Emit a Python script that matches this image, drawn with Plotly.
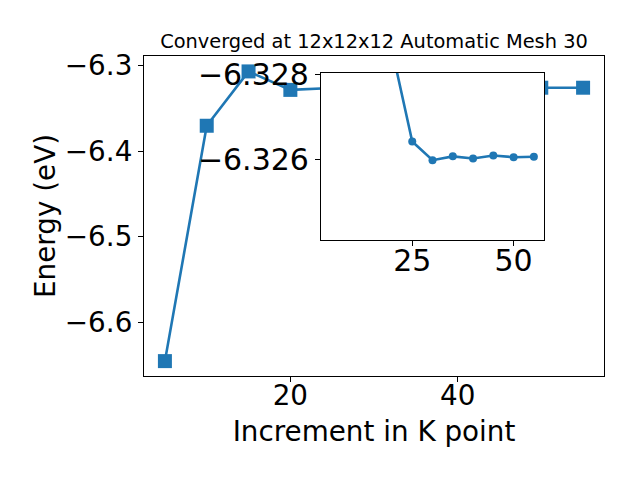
import plotly.graph_objects as go

kpoints = [5, 10, 15, 20, 25, 30, 35, 40, 45, 50, 55]
energy = [-6.6455, -6.3705, -6.3070, -6.3286, -6.32642, -6.32598, -6.32607,
          -6.32602, -6.32609, -6.32605, -6.32606]
inset_start = 3  # inset shows the converged tail, from 20 on

title_text = "Converged at 12x12x12 Automatic Mesh 30"
xlabel = "Increment in K point"
ylabel = "Energy (eV)"
inset_xticks = [25, 50]
inset_yticks = [-6.328, -6.326]

blue = "#1f77b4"
font = "DejaVu Sans"
OFF = 8  # page body margin compensation

fig = go.Figure()
fig.add_trace(go.Scatter(x=kpoints, y=energy, mode="lines+markers",
                         line=dict(color=blue, width=2.6),
                         marker=dict(symbol="square", size=14, color=blue),
                         xaxis="x", yaxis="y", showlegend=False))
fig.add_trace(go.Scatter(x=kpoints[inset_start:], y=energy[inset_start:], mode="lines+markers",
                         line=dict(color=blue, width=2.6),
                         marker=dict(symbol="circle", size=8, color=blue),
                         xaxis="x2", yaxis="y2", showlegend=False))

def axis_common(size):
    return dict(showline=True, linecolor="black", linewidth=1.2, mirror=True,
                ticks="outside", ticklen=5, tickwidth=1.2, tickcolor="black",
                showgrid=False, zeroline=False,
                tickfont=dict(family=font, size=size, color="black"))

fig.update_layout(
    width=640, height=480,
    margin=dict(l=144 - OFF, r=36 + OFF, t=56 - OFF, b=104 + OFF),
    paper_bgcolor="white", plot_bgcolor="white",
    font=dict(family=font, color="black"),
    title=dict(text=title_text, x=0.5, xref="paper", xanchor="center",
               y=1 - (41.5 - OFF) / 480, yref="container", yanchor="middle",
               font=dict(family=font, size=19.4, color="black")),
    xaxis=dict(range=[2.5, 57.5], dtick=20, tick0=0, domain=[0, 1],
               ticklabelstandoff=-10,
               title=dict(text=xlabel, font=dict(family=font, size=27.8, color="black"), standoff=10),
               **axis_common(27.8)),
    yaxis=dict(range=[-6.6629, -6.289], dtick=0.1, tick0=0, domain=[0, 1],
               tickformat=".1f",
               title=dict(text=ylabel, font=dict(family=font, size=27.8, color="black"), standoff=1),
               **axis_common(27.8)),
    xaxis2=dict(range=[2.5, 57.5], tickvals=inset_xticks, anchor="y2",
                ticklabelstandoff=-11,
                domain=[0.3848, 0.8696], **axis_common(30)),
    yaxis2=dict(range=[-6.32409, -6.32805], tickvals=inset_yticks, tickformat=".3f",
                anchor="x2", domain=[0.425, 0.9478], **axis_common(30)),
)

fig.write_html("out.html")
